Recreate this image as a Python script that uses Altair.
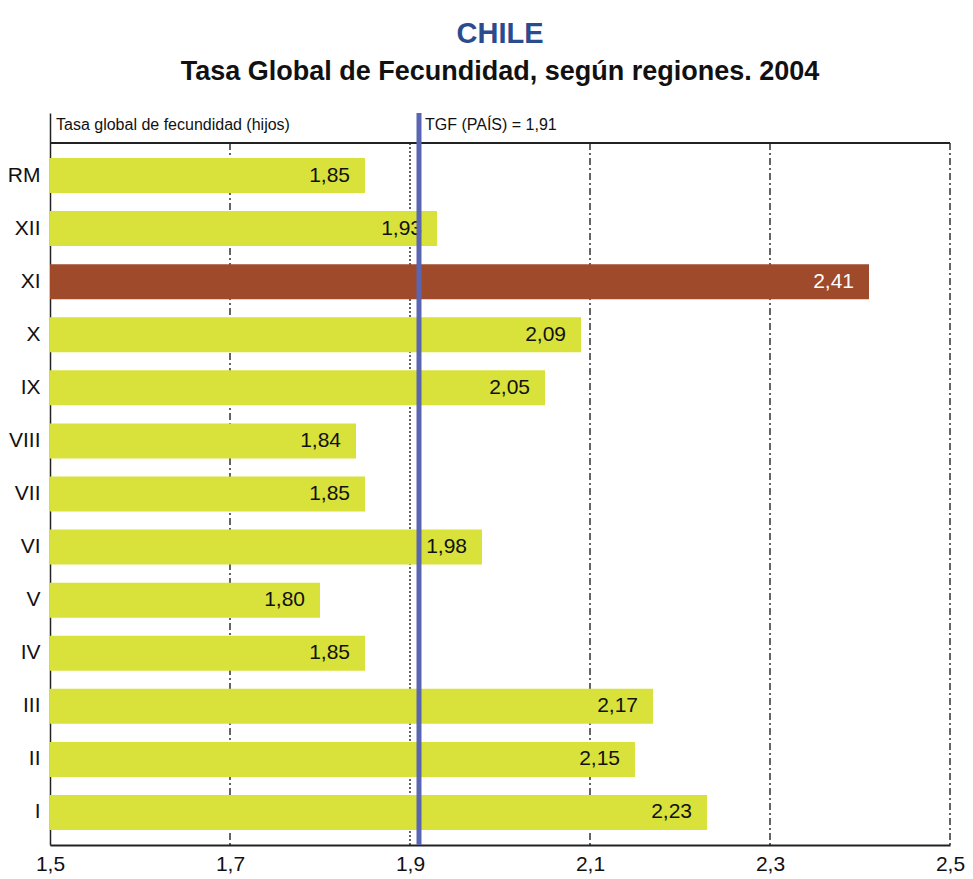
import altair as alt
import pandas as pd

regions = ["RM", "XII", "XI", "X", "IX", "VIII", "VII", "VI", "V", "IV", "III", "II", "I"]
values = [1.85, 1.93, 2.41, 2.09, 2.05, 1.84, 1.85, 1.98, 1.80, 1.85, 2.17, 2.15, 2.23]
highlight = ["XI"]
country_value = 1.91
grid_dashdot = [1.7, 2.1, 2.3, 2.5]
grid_dotted = [1.9]
x_ticks = [1.5, 1.7, 1.9, 2.1, 2.3, 2.5]

FONT = "Liberation Sans, Arial, sans-serif"
W, H = 900, 732
HEADER = 30

df = pd.DataFrame({
    "region": regions,
    "value": values,
    "hl": ["si" if r in highlight else "no" for r in regions],
})
df["label"] = df["value"].map(lambda v: f"{v:.2f}".replace(".", ","))

xscale = alt.Scale(domain=[1.5, 2.5], nice=False, zero=False)
yscale = alt.Scale(domain=regions, paddingInner=0.34, paddingOuter=0.565, align=0.75)

x_enc = alt.X("value:Q", scale=xscale,
              axis=alt.Axis(values=x_ticks, grid=False, ticks=False, domain=True,
                            domainColor="#222", domainWidth=2, labelFontSize=21,
                            labelFont=FONT, labelColor="#111", labelPadding=8,
                            labelExpr="replace(format(datum.value, '.1f'), '.', ',')",
                            title=None, labelFlush=False))

base = alt.Chart(df)

bars = base.mark_bar().encode(
    x=x_enc,
    x2=alt.datum(1.5),
    y=alt.Y("region:N", scale=yscale, sort=regions,
            axis=alt.Axis(ticks=False, domain=True, domainColor="#222", domainWidth=1.5,
                          labelFontSize=21, labelFont=FONT, labelColor="#111",
                          labelPadding=10, title=None)),
    color=alt.Color("hl:N", scale=alt.Scale(domain=["no", "si"], range=["#D8E23B", "#9E4A2B"]),
                    legend=None),
)

labels = base.mark_text(align="right", baseline="middle", dx=-15, fontSize=21, font=FONT).encode(
    x=alt.X("value:Q", scale=xscale),
    y=alt.Y("region:N", scale=yscale, sort=regions),
    text="label:N",
    fill=alt.condition(alt.datum.hl == "si", alt.value("#ffffff"), alt.value("#111111")),
)

grid1 = alt.Chart(pd.DataFrame({"g": grid_dashdot})).mark_rule(
    color="#111", strokeWidth=1.3, strokeDash=[7, 3, 2, 3]).encode(
    x=alt.X("g:Q", scale=xscale), y=alt.value(HEADER), y2=alt.value(H))

grid2 = alt.Chart(pd.DataFrame({"g": grid_dotted})).mark_rule(
    color="#111", strokeWidth=1.3, strokeDash=[2, 2]).encode(
    x=alt.X("g:Q", scale=xscale), y=alt.value(HEADER), y2=alt.value(H))

top_line = alt.Chart(pd.DataFrame({"a": [1.5], "b": [2.5]})).mark_rule(
    color="#222", strokeWidth=2).encode(
    x=alt.X("a:Q", scale=xscale), x2="b:Q", y=alt.value(HEADER))

country = alt.Chart(pd.DataFrame({"v": [country_value]})).mark_rule(
    color="#5A66B2", strokeWidth=5).encode(
    x=alt.X("v:Q", scale=xscale), y=alt.value(0), y2=alt.value(H))

header_df = pd.DataFrame({
    "x": [1.5, country_value],
    "t": ["Tasa global de fecundidad (hijos)", "TGF (PAÍS) = " + f"{country_value:.2f}".replace(".", ",")],
})
header = alt.Chart(header_df).mark_text(align="left", baseline="middle", dx=6, fontSize=16,
                                        font=FONT, color="#111").encode(
    x=alt.X("x:Q", scale=xscale), y=alt.value(12), text="t:N")

chart = alt.layer(grid1, grid2, top_line, bars, labels, country, header).properties(
    width=W, height=H,
    title=alt.TitleParams(
        text="CHILE", subtitle="Tasa Global de Fecundidad, según regiones. 2004",
        anchor="middle", font=FONT, fontSize=29, fontWeight="bold", color="#2B4B8E",
        subtitleFont=FONT, subtitleFontSize=27, subtitleFontWeight="bold",
        subtitleColor="#111", subtitlePadding=10, offset=26),
    autosize=alt.AutoSizeParams(type="none"),
    padding={"left": 50, "top": 113, "right": 23, "bottom": 34},
    background="white",
).configure_view(stroke=None)

chart.save("out.html", embed_options={"renderer": "svg", "actions": False})
